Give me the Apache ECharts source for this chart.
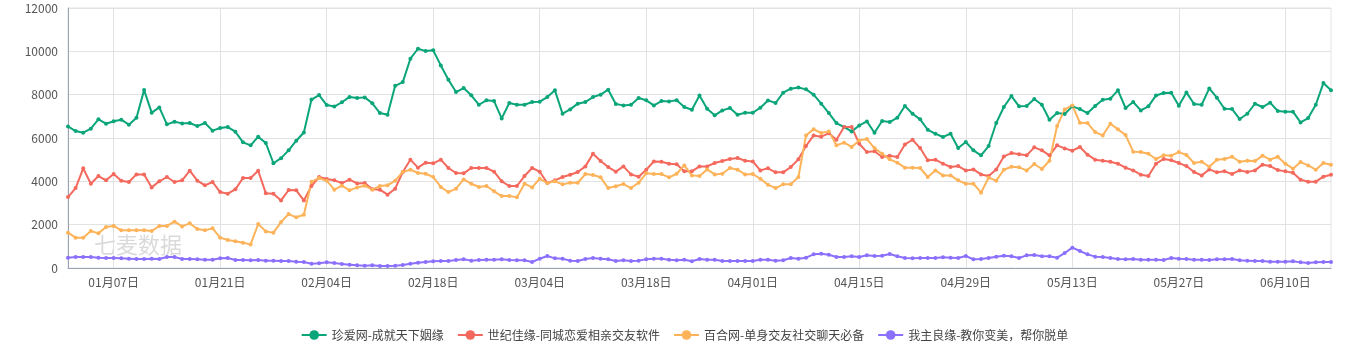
<!DOCTYPE html>
<html>
<head>
<meta charset="utf-8">
<title>line</title>
<script src="https://cdn.jsdelivr.net/npm/echarts@6/dist/echarts.min.js"></script>
<style>
  html, body { margin: 0; padding: 0; background: #fff; }
  #chart { width: 1369px; height: 354px; }
</style>
</head>
<body>
<div id="chart"></div>
<script>
// 2019-01-01 ~ 2019-06-16, daily
const startDate = new Date(2019, 0, 1)
const dayCount = 167
const dates = []
for (let i = 0; i < dayCount; i++) {
  const d = new Date(startDate.getTime() + i * 86400000)
  const m = String(d.getMonth() + 1).padStart(2, '0')
  const day = String(d.getDate()).padStart(2, '0')
  dates.push(m + '月' + day + '日')
}

const legendNames = [
  '珍爱网-成就天下姻缘',
  '世纪佳缘-同城恋爱相亲交友软件',
  '百合网-单身交友社交聊天必备',
  '我主良缘-教你变美，帮你脱单'
]

const zhenai = [
  6535, 6320, 6245, 6430, 6860, 6660, 6770, 6845, 6615, 6935, 8210, 7170, 7410, 6630, 6750, 6675, 6690, 6550, 6690, 6340,
  6460, 6505, 6290, 5800, 5660, 6060, 5770, 4835, 5070, 5430, 5875, 6255, 7775, 7980, 7520, 7450, 7650, 7895, 7845, 7875,
  7600, 7150, 7075, 8410, 8580, 9660, 10120, 10010, 10045, 9350, 8690, 8120, 8305, 7970, 7535, 7740, 7705, 6905, 7615, 7535,
  7535, 7660, 7675, 7890, 8200, 7120, 7320, 7585, 7660, 7890, 8000, 8230, 7570, 7505, 7535, 7845, 7740, 7505, 7705, 7690,
  7740, 7430, 7305, 7965, 7350, 7045, 7275, 7385, 7075, 7165, 7165, 7400, 7735, 7615, 8090, 8275, 8335, 8245, 8000, 7585,
  7150, 6690, 6505, 6305, 6580, 6765, 6245, 6785, 6735, 6935, 7475, 7120, 6860, 6380, 6200, 6045, 6200, 5540, 5815, 5430,
  5200, 5630, 6690, 7430, 7935, 7460, 7475, 7800, 7535, 6845, 7150, 7105, 7460, 7335, 7150, 7475, 7770, 7815, 8200, 7385,
  7660, 7275, 7460, 7965, 8075, 8090, 7490, 8105, 7570, 7535, 8290, 7860, 7350, 7335, 6875, 7120, 7580, 7430, 7630, 7245,
  7215, 7215, 6720, 6920, 7535, 8535, 8200
]

const jiayuan = [
  3275, 3690, 4600, 3890, 4245, 4045, 4340, 4030, 3970, 4320, 4320, 3720, 4000, 4200, 3970, 4045, 4490, 4030, 3815, 3970,
  3505, 3430, 3630, 4155, 4155, 4490, 3445, 3430, 3120, 3600, 3585, 3120, 3785, 4200, 4105, 4045, 3920, 4075, 3905, 3920,
  3630, 3615, 3385, 3660, 4430, 5000, 4630, 4860, 4830, 5000, 4615, 4385, 4370, 4615, 4615, 4615, 4445, 4000, 3785, 3785,
  4245, 4615, 4445, 3920, 4045, 4200, 4305, 4430, 4690, 5275, 4935, 4660, 4445, 4690, 4320, 4215, 4535, 4920, 4905, 4815,
  4785, 4460, 4460, 4690, 4690, 4845, 4935, 5030, 5075, 4950, 4920, 4505, 4600, 4415, 4415, 4660, 5015, 5630, 6120, 6060,
  6215, 5920, 6505, 6505, 5735, 5350, 5385, 5120, 5185, 5120, 5705, 5920, 5535, 4970, 5000, 4815, 4660, 4705, 4505, 4550,
  4320, 4245, 4550, 5150, 5305, 5245, 5200, 5570, 5430, 5200, 5660, 5520, 5415, 5585, 5230, 5000, 4950, 4905, 4815, 4630,
  4505, 4305, 4245, 4815, 5030, 4970, 4845, 4705, 4430, 4275, 4550, 4415, 4460, 4340, 4505, 4430, 4505, 4770, 4705, 4520,
  4460, 4400, 4075, 3985, 3985, 4215, 4305
]

const baihe = [
  1630, 1400, 1400, 1705, 1600, 1890, 1940, 1740, 1740, 1740, 1740, 1705, 1940, 1940, 2140, 1920, 2060, 1800, 1740, 1830,
  1400, 1290, 1230, 1170, 1090, 2030, 1690, 1630, 2120, 2490, 2340, 2460, 3985, 4150, 4030, 3615, 3800, 3585, 3720, 3800,
  3615, 3785, 3815, 4030, 4430, 4540, 4385, 4350, 4200, 3740, 3505, 3660, 4090, 3890, 3740, 3785, 3540, 3320, 3320, 3260,
  3890, 3720, 4120, 3920, 4000, 3860, 3935, 3935, 4335, 4290, 4185, 3690, 3770, 3875, 3690, 3935, 4370, 4335, 4335, 4185,
  4350, 4735, 4275, 4245, 4550, 4320, 4350, 4615, 4535, 4320, 4335, 4120, 3845, 3690, 3860, 3860, 4200, 6120, 6400, 6230,
  6305, 5660, 5785, 5585, 5890, 5950, 5535, 5275, 5015, 4860, 4630, 4630, 4615, 4200, 4505, 4275, 4275, 4045, 3890, 3890,
  3475, 4170, 4030, 4535, 4675, 4645, 4505, 4800, 4570, 4950, 6550, 7320, 7505, 6705, 6690, 6275, 6120, 6660, 6400, 6135,
  5370, 5350, 5275, 5030, 5200, 5185, 5350, 5215, 4845, 4905, 4675, 5000, 5030, 5135, 4905, 4950, 4935, 5185, 5000, 5135,
  4815, 4585, 4890, 4735, 4535, 4845, 4770
]

const wozhu = [
  477, 508, 508, 508, 477, 460, 460, 446, 430, 415, 415, 430, 415, 508, 508, 415, 415, 400, 385, 385,
  446, 460, 370, 370, 354, 370, 340, 340, 323, 323, 292, 277, 200, 215, 260, 230, 185, 154, 123, 108,
  123, 92, 92, 108, 140, 200, 245, 277, 308, 323, 323, 370, 400, 340, 370, 385, 385, 400, 370, 354,
  354, 277, 430, 554, 446, 430, 340, 323, 415, 460, 430, 400, 323, 354, 323, 340, 400, 430, 430, 385,
  354, 385, 308, 415, 385, 385, 323, 323, 323, 323, 323, 385, 385, 340, 354, 460, 430, 477, 630, 660,
  615, 508, 508, 540, 508, 585, 554, 570, 645, 540, 460, 446, 460, 460, 460, 492, 477, 460, 554, 400,
  415, 460, 523, 570, 540, 460, 585, 600, 540, 540, 477, 690, 940, 785, 630, 523, 508, 460, 415, 400,
  415, 385, 385, 385, 370, 460, 430, 415, 385, 385, 370, 400, 400, 415, 354, 340, 323, 323, 292, 292,
  292, 308, 260, 230, 260, 277, 277
]

const colors = ['#0ba57a', '#f4695d', '#fdb35a', '#8b70fc']
const seriesData = [zhenai, jiayuan, baihe, wozhu]

const showTick = function(idx) {
  return idx % 14 === 6
}

const chart = echarts.init(document.getElementById('chart'))
const option = {
  color: colors,
  textStyle: {
    fontFamily: 'Noto Sans CJK SC, Noto Sans, sans-serif'
  },
  grid: {
    left: 68,
    right: 38,
    top: 8,
    bottom: 86,
    show: true,
    borderColor: '#e2e2e2',
    borderWidth: 1
  },
  legend: {
    bottom: 8,
    itemWidth: 25,
    itemHeight: 12,
    itemGap: 13,
    textStyle: { color: '#444', fontSize: 12 },
    data: legendNames
  },
  graphic: [
    {
      type: 'text',
      left: 94,
      top: 234,
      z: 0,
      style: {
        text: '七麦数据',
        fontSize: 22,
        fill: 'rgba(150,150,150,0.35)',
        fontFamily: 'Noto Sans CJK SC'
      }
    }
  ],
  xAxis: {
    type: 'category',
    boundaryGap: false,
    data: dates,
    axisLine: { lineStyle: { color: '#9aa3b3' } },
    axisTick: { show: false },
    axisLabel: {
      color: '#555',
      fontSize: 12,
      margin: 8,
      interval: showTick
    },
    splitLine: {
      show: true,
      interval: showTick,
      lineStyle: { color: '#e2e2e2' }
    }
  },
  yAxis: {
    type: 'value',
    min: 0,
    max: 12000,
    interval: 2000,
    axisLine: { show: true, lineStyle: { color: '#9aa3b3' } },
    axisTick: { show: false },
    axisLabel: {
      color: '#555',
      fontSize: 12,
      margin: 10,
      formatter: function(v) {
        return String(v)
      }
    },
    splitLine: { lineStyle: { color: '#e2e2e2' } }
  },
  series: legendNames.map(function(name, i) {
    return {
      name: name,
      type: 'line',
      data: seriesData[i],
      symbol: 'circle',
      symbolSize: 4,
      showSymbol: true,
      showAllSymbol: true,
      lineStyle: { width: 2 },
      animation: false
    }
  })
}
chart.setOption(option)
</script>
</body>
</html>
